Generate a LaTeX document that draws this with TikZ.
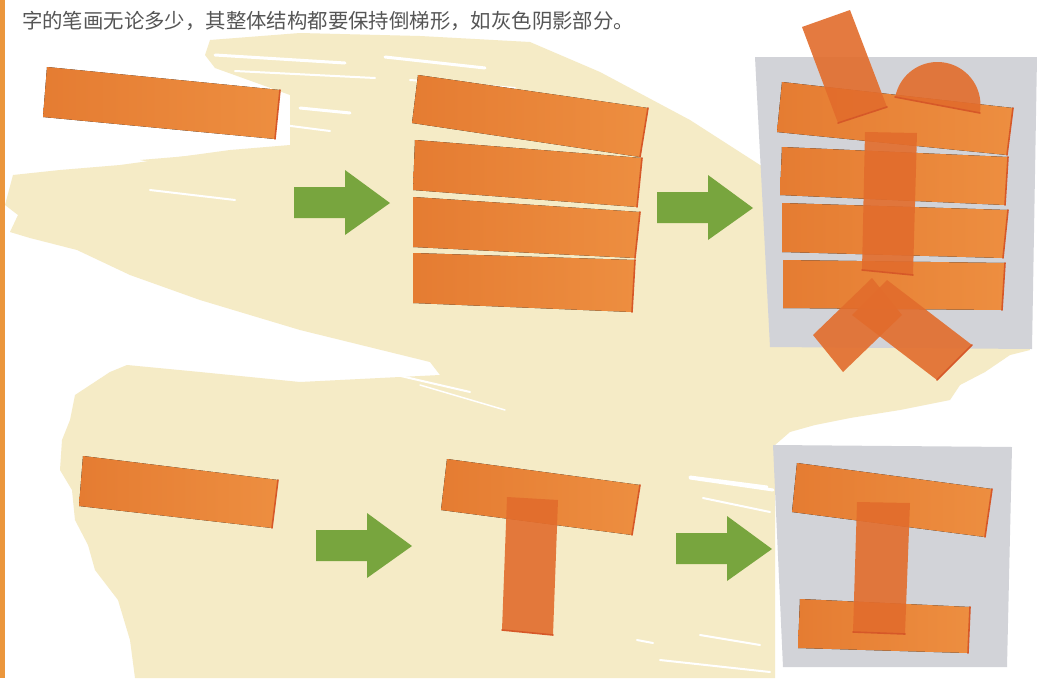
\documentclass[tikz,border=0pt]{standalone}
\usepackage{fontspec}
\newfontfamily\cjk{Noto Sans CJK SC}
\definecolor{cream}{RGB}{245,235,198}
\definecolor{grayshade}{RGB}{210,211,216}
\definecolor{orA}{RGB}{229,124,50}
\definecolor{orB}{RGB}{237,142,64}
\definecolor{ordark}{RGB}{214,88,40}
\definecolor{orover}{RGB}{226,108,44}
\definecolor{arrowgreen}{RGB}{120,165,62}
\definecolor{textgray}{RGB}{85,85,85}
\definecolor{sidebar}{RGB}{235,150,60}
\tikzset{
  brushfill/.style={left color=orA, right color=orB},
  overfill/.style={fill=orover, fill opacity=0.9},
  brushedge/.style={draw=ordark, line width=1.6pt, line cap=round},
  greenarrow/.style={fill=arrowgreen},
  graybox/.style={fill=grayshade},
  creamfill/.style={fill=cream},
  streak/.style={draw=white, line cap=round},
}
\newcommand\mystroke[5][brushfill]{\fill[#1] #2 -- #3 -- #4 -- #5 -- cycle; \draw[brushedge] #3 -- #4;}
\newcommand\myarrow[2]{\fill[greenarrow] (#1,#2) -- (#1+51,#2) -- (#1+51,#2-17) -- (#1+96,#2+16) -- (#1+51,#2+48) -- (#1+51,#2+31) -- (#1,#2+31) -- cycle;}
\begin{document}
\begin{tikzpicture}[x=1pt,y=-1pt]
\useasboundingbox (0,0) rectangle (1037,678);
\fill[white] (0,0) rectangle (1037,678);
% cream brush background
\fill[creamfill] (210,40) -- (300,33) -- (420,36) -- (530,42) -- (600,72) -- (690,120) -- (760,165) -- (900,220) -- (1020,250) -- (1030,350) -- (1010,355) -- (985,372) -- (960,385) -- (950,400) -- (900,410) -- (850,418) -- (815,425) -- (790,432) -- (775,445) -- (775,678) -- (135,678) -- (130,640) -- (118,600) -- (95,570) -- (88,545) -- (75,520) -- (72,490) -- (60,470) -- (62,440) -- (70,420) -- (75,395) -- (110,372) -- (127,365) -- (200,372) -- (300,382) -- (440,375) -- (430,362) -- (300,330) -- (200,300) -- (130,275) -- (77,250) -- (30,238) -- (10,232) -- (18,215) -- (5,205) -- (13,175) -- (60,170) -- (120,165) -- (230,150) -- (290,145) -- (290,95) -- (215,68) -- (205,55) -- cycle;
\fill[creamfill] (140,160) -- (260,150) -- (330,150) -- (300,158) -- (180,168) -- cycle;
% white streaks
\draw[streak, line width=3pt] (215,55) -- (345,63);
\draw[streak, line width=2pt] (235,71) -- (375,78);
\draw[streak, line width=3pt] (385,57) -- (485,68);
\draw[streak, line width=2pt] (410,80) -- (515,88);
\draw[streak, line width=2pt] (470,100) -- (600,118);
\draw[streak, line width=3pt] (300,108) -- (350,113);
\draw[streak, line width=2pt] (283,125) -- (330,131);
\draw[streak, line width=2pt] (150,190) -- (235,200);
\draw[streak, line width=2pt] (340,362) -- (470,392);
\draw[streak, line width=1.5pt] (420,385) -- (505,410);
\draw[streak, line width=3pt] (690,478) -- (773,490);
\draw[streak, line width=2pt] (703,498) -- (770,512);
\draw[streak, line width=2pt] (637,640) -- (653,643);
\draw[streak, line width=2pt] (700,635) -- (760,645);
\draw[streak, line width=3pt] (690,477) -- (767,487);
\draw[streak, line width=2pt] (660,660) -- (770,672);
% left sidebar
\fill[sidebar] (0,0) rectangle (5,678);
% title text
\node[anchor=base west, inner sep=0pt, font=\cjk\fontsize{20.4}{24}\selectfont, text=textgray] (title) at (22,28) {字的笔画无论多少，其整体结构都要保持倒梯形，如灰色阴影部分。};
% ---------------- top row
\mystroke{(47,67)}{(280,90)}{(275,139)}{(43,117)}
\myarrow{294}{187}
\mystroke{(418,75)}{(648,108)}{(640,157)}{(412,123)}
\mystroke{(415,140)}{(642,158)}{(637,207)}{(413,190)}
\mystroke{(413,197)}{(640,212)}{(635,258)}{(413,247)}
\mystroke{(413,253)}{(635,260)}{(632,312)}{(413,303)}
\myarrow{657}{192}
% gray trapezoid top
\fill[graybox] (755,57) -- (1037,57) -- (1032,349) -- (770,347) -- cycle;
\mystroke{(782,82)}{(1013,108)}{(1007,155)}{(777,132)}
\mystroke{(782,147)}{(1008,157)}{(1005,205)}{(780,195)}
\mystroke{(782,203)}{(1008,210)}{(1003,258)}{(782,252)}
\mystroke{(783,260)}{(1005,263)}{(1002,310)}{(783,308)}
% dot
\fill[overfill] (802,27) -- (850,10) -- (887,107) -- (838,123) -- cycle;
\draw[brushedge] (887,107) -- (838,123);
% half disk
\fill[overfill] plot[domain=10.7:-169.3, samples=50] ({937.5+43*cos(\x)}, {105+43*sin(\x)}) -- cycle;
\draw[brushedge] (895,97) -- (980,113);
% vertical
\fill[overfill] (865,132) -- (917,133) -- (913,275) -- (862,270) -- cycle;
\draw[brushedge] (913,275) -- (862,270);
% crossing strokes
\fill[overfill] (872,278) -- (813,335) -- (843,372) -- (902,315) -- cycle;
\fill[overfill] (887,280) -- (972,345) -- (937,380) -- (852,315) -- cycle;
\draw[brushedge] (972,345) -- (937,380);
% ---------------- bottom row
\mystroke{(83,456)}{(278,480)}{(272,528)}{(79,506)}
\myarrow{316}{530}
\mystroke{(447,459)}{(640,485)}{(632,535)}{(441,510)}
\fill[overfill] (507,497) -- (558,500) -- (553,635) -- (502,630) -- cycle;
\draw[brushedge] (553,635) -- (502,630);
\myarrow{676}{533}
\fill[graybox] (773,445) -- (1012,447) -- (1007,667) -- (783,667) -- cycle;
\mystroke{(797,463)}{(992,489)}{(985,537)}{(792,512)}
\mystroke{(800,599)}{(970,607)}{(968,653)}{(798,648)}
\fill[overfill] (857,502) -- (910,503) -- (905,634) -- (853,632) -- cycle;
\draw[brushedge] (905,634) -- (853,632);
\end{tikzpicture}
\end{document}
